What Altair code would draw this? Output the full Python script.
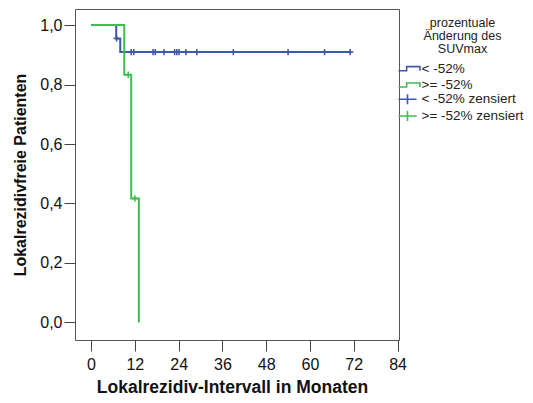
import altair as alt
import pandas as pd

# ---- data ----
groups = ["< -52%", ">= -52%"]
colors = ["#3E58AC", "#3DBE50"]

blue_t = [0.0, 6.9, 8.0, 71.0]
blue_s = [1.0, 0.955, 0.909, 0.909]
green_t = [0.0, 9.1, 11.0, 13.1]
green_s = [1.0, 0.833, 0.417, 0.0]

blue_cens_t = [7.0, 11.0, 11.7, 17.0, 17.6, 20.0, 22.9, 23.5, 24.1, 26.0, 29.0, 39.0, 54.0, 64.0, 71.0]
blue_cens_s = [0.955, 0.909, 0.909, 0.909, 0.909, 0.909, 0.909, 0.909, 0.909, 0.909, 0.909, 0.909, 0.909, 0.909, 0.909]
green_cens_t = [10.2, 12.0]
green_cens_s = [0.833, 0.417]

x_ticks = [0, 12, 24, 36, 48, 60, 72, 84]
y_ticks = [0.0, 0.2, 0.4, 0.6, 0.8, 1.0]

legend_title = ["prozentuale", "Änderung des", "SUVmax"]
legend_labels = ["< -52%", ">= -52%", "< -52% zensiert", ">= -52% zensiert"]

x_title = "Lokalrezidiv-Intervall in Monaten"
y_title = "Lokalrezidivfreie Patienten"

FONT = "Liberation Sans"

xscale = alt.Scale(domain=[-4.4, 84.4], nice=False, zero=False)
yscale = alt.Scale(domain=[-0.059, 1.054], nice=False, zero=False)

xaxis = alt.Axis(values=x_ticks, title=x_title, grid=False, domain=False,
                 tickSize=11, tickColor="#444", labelFontSize=16, labelPadding=5,
                 labelColor="#111", labelFont=FONT, titleFont=FONT, titleFontSize=17.5,
                 titleFontWeight="bold", titleColor="#111", titlePadding=6,
                 titleX=157)
yaxis = alt.Axis(values=y_ticks, title=y_title, grid=False, domain=False,
                 tickSize=11, tickColor="#444", labelFontSize=16, labelPadding=2,
                 labelColor="#111", labelFont=FONT, titleFont=FONT, titleFontSize=16,
                 titleFontWeight="bold", titleColor="#111", titlePadding=11,
                 labelExpr="replace(format(datum.value, '.1f'), '.', ',')")


def curve(t, s, col):
    df = pd.DataFrame({"t": t, "s": s})
    return alt.Chart(df).mark_line(interpolate="step-after", strokeWidth=2, color=col).encode(
        x=alt.X("t:Q", scale=xscale, axis=xaxis),
        y=alt.Y("s:Q", scale=yscale, axis=yaxis),
    )


CROSS = "M-1,0H1M0,-1V1"


def censors(t, s, col):
    df = pd.DataFrame({"t": t, "s": s})
    return alt.Chart(df).mark_point(shape=CROSS, filled=False, size=40, strokeWidth=1.6,
                                    color=col, opacity=1).encode(
        x=alt.X("t:Q", scale=xscale, axis=xaxis),
        y=alt.Y("s:Q", scale=yscale, axis=yaxis),
    )


layers = [
    curve(blue_t, blue_s, colors[0]),
    censors(blue_cens_t, blue_cens_s, colors[0]),
    curve(green_t, green_s, colors[1]),
    censors(green_cens_t, green_cens_s, colors[1]),
]

# ---- manual legend ----
one = pd.DataFrame({"a": [0]})
layers.append(
    alt.Chart(one).mark_text(text=legend_title, font=FONT, fontSize=12.5, lineHeight=13,
                             align="center", baseline="top", color="#222").encode(
        x=alt.value(387.5), y=alt.value(8))
)
STEP = "M-1,0.19H-0.24V-0.19H1V0.19"
PLUS = "M-1,0H1M0,-0.55V0.55"
sym_shapes = [STEP, STEP, PLUS, PLUS]
sym_sizes = [462, 462, 330, 330]
sym_x = [334.2, 334.2, 332.5, 332.5]
sym_colors = [colors[0], colors[1], colors[0], colors[1]]
entry_y = [59.7, 76.0, 90.3, 107.0]
for i, lab in enumerate(legend_labels):
    layers.append(
        alt.Chart(one).mark_point(shape=sym_shapes[i], filled=False, size=sym_sizes[i],
                                  strokeWidth=1.6, color=sym_colors[i], opacity=1).encode(
            x=alt.value(sym_x[i]), y=alt.value(entry_y[i]))
    )
    layers.append(
        alt.Chart(one).mark_text(text=lab, font=FONT, fontSize=13.5, align="left",
                                 baseline="middle", color="#222").encode(
            x=alt.value(346.5), y=alt.value(entry_y[i]))
    )

chart = alt.layer(*layers).properties(
    width=324, height=331, autosize="none",
    padding={"left": 67, "top": 1, "right": 125, "bottom": 55},
    background="white",
).configure_view(stroke="#555", strokeWidth=1)

chart.save("out.html", embed_options={"renderer": "svg", "actions": False})
